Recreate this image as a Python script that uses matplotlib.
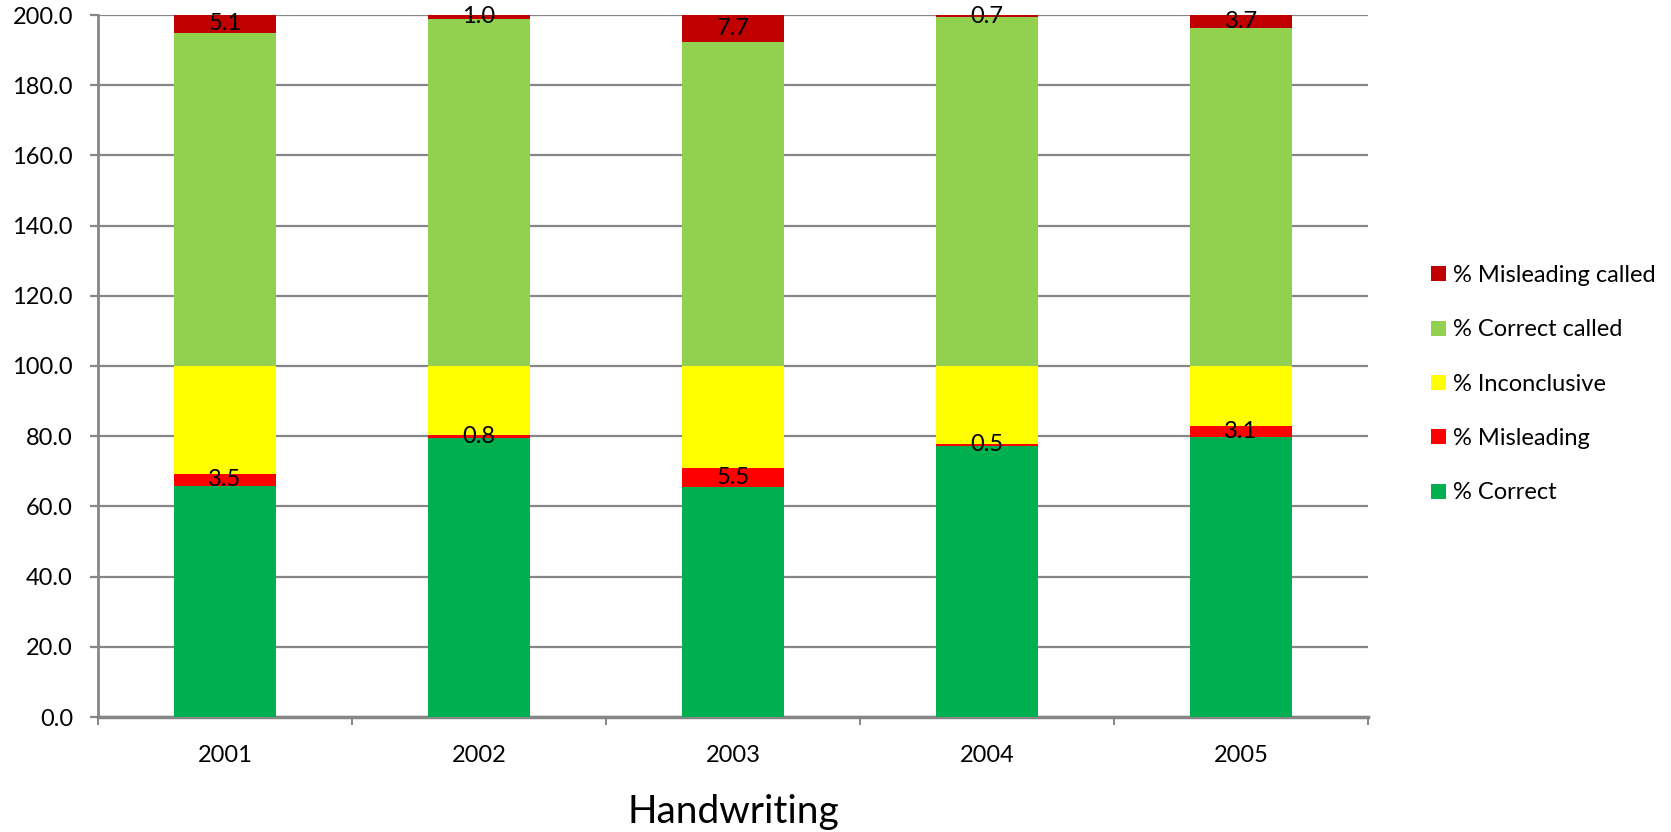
import matplotlib.pyplot as plt
import numpy as np

plt.rcParams['font.family'] = ['Lato', 'DejaVu Sans']

years = ['2001', '2002', '2003', '2004', '2005']
correct = [65.8, 79.5, 65.5, 77.3, 79.8]
misleading = [3.5, 0.8, 5.5, 0.5, 3.1]
inconclusive = [30.7, 19.7, 29.0, 22.2, 17.1]
correct_called = [94.9, 99.0, 92.3, 99.3, 96.3]
misleading_called = [5.1, 1.0, 7.7, 0.7, 3.7]

series = [
    ('% Correct', correct, '#00B050', False),
    ('% Misleading', misleading, '#FF0000', True),
    ('% Inconclusive', inconclusive, '#FFFF00', False),
    ('% Correct called', correct_called, '#92D050', False),
    ('% Misleading called', misleading_called, '#C00000', True),
]

fig = plt.figure(figsize=(16.71, 8.32), dpi=100)
ax = fig.add_axes([98 / 1671, 1 - 717 / 832, (1368 - 98) / 1671, (717 - 15) / 832])

x = np.arange(len(years))
bottom = np.zeros(len(years))
handles = []
for name, vals, col, lab in series:
    vals = np.array(vals)
    b = ax.bar(x, vals, 0.4, bottom=bottom, color=col, label=name, zorder=3)
    handles.append(b)
    if lab:
        # value labels centred in the segment, like excel does
        for xi, v, bt in zip(x, vals, bottom):
            ax.text(xi, bt + v / 2, f'{v:.1f}', ha='center', va='center',
                    fontsize=17, color='black', zorder=4)
    bottom = bottom + vals

ax.set_xlim(-0.5, len(years) - 0.5)
ax.set_ylim(0, 200)
ax.set_yticks(np.arange(0, 201, 20))
ax.set_yticklabels([f'{v:.1f}' for v in np.arange(0, 201, 20)], fontsize=17)
ax.set_xticks(x)
ax.set_xticklabels(years, fontsize=17)
ax.set_xticks(np.arange(-0.5, len(years)), minor=True)
ax.tick_params(axis='x', which='major', length=0, pad=20)
ax.tick_params(axis='x', which='minor', length=6, color='#868686', width=1.4)
ax.tick_params(axis='y', length=6, color='#868686', width=1.6, pad=12)

ax.grid(axis='y', color='#868686', linewidth=1.6, zorder=0)
for s in ['top', 'right']:
    ax.spines[s].set_visible(False)
ax.spines['left'].set_color('#868686')
ax.spines['left'].set_linewidth(2)
ax.spines['bottom'].set_color('#868686')
ax.spines['bottom'].set_linewidth(2.5)

ax.set_xlabel('Handwriting', fontsize=28, labelpad=20)

leg = ax.legend(handles=handles[::-1], loc='center left', bbox_to_anchor=(1.0326, 0.474),
                frameon=False, fontsize=17, handlelength=0.64, handleheight=0.6,
                handletextpad=0.3, labelspacing=1.41)

fig.savefig('out.png', dpi=100)
